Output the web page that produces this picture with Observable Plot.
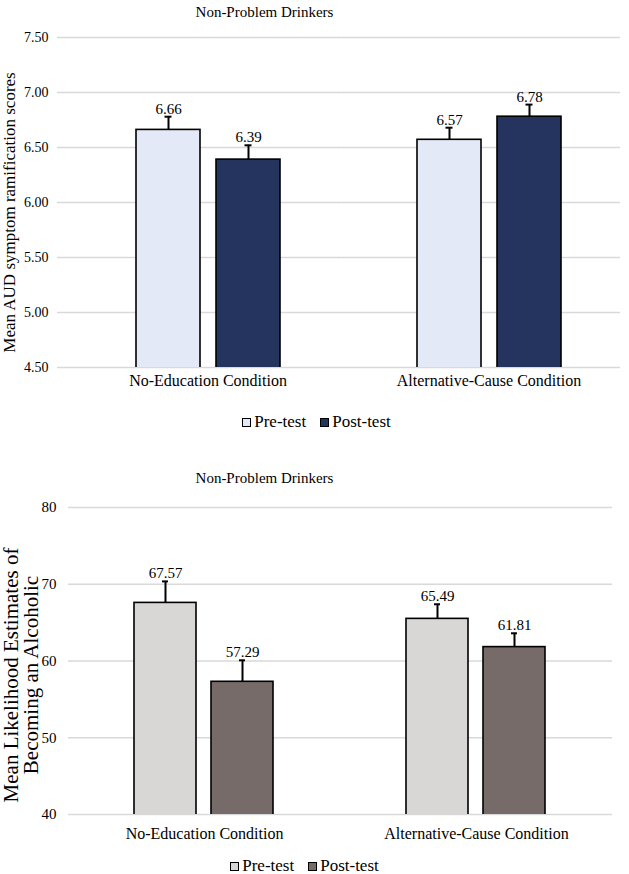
<!DOCTYPE html>
<html>
<head>
<meta charset="utf-8">
<script src="https://cdn.jsdelivr.net/npm/d3@7"></script>
<script src="https://cdn.jsdelivr.net/npm/@observablehq/plot@0.6"></script>
<style>
  html, body { margin: 0; padding: 0; background: #fff; }
  body { width: 629px; height: 874px; position: relative; overflow: hidden; font-family: "Liberation Serif", "Times New Roman", serif; color: #000; }
  .title { position: absolute; left: 0; width: 529px; text-align: center; font-size: 15px; line-height: 16px; }
  .chart { position: absolute; left: 0; }
  .legend { position: absolute; left: 0; width: 629px; display: flex; justify-content: center; align-items: center; font-size: 17px; line-height: 16px; }
  .legend .item { display: flex; align-items: center; margin: 0 7px; }
  .legend .sw { width: 7px; height: 7px; border: 1.6px solid #000; margin-right: 3px; }
</style>
</head>
<body>
<script>
// ---------- data ----------
const categories = ["No-Education Condition", "Alternative-Cause Condition"];
const tests = ["Pre-test", "Post-test"];

const chartTitle = "Non-Problem Drinkers";

// Chart 1: Mean AUD symptom ramification scores (order: cat1 pre, cat1 post, cat2 pre, cat2 post)
const audLabel = "Mean AUD symptom ramification scores";
const audMeans = [6.66, 6.39, 6.57, 6.78];
const audErrors = [0.12, 0.13, 0.11, 0.11];
const audTicks = [4.5, 5.0, 5.5, 6.0, 6.5, 7.0, 7.5];
const audColors = ["#E3E9F7", "#25345F"];

// Chart 2: Mean likelihood estimates of becoming an alcoholic
const likeLabel = "Mean Likelihood Estimates of\nBecoming an Alcoholic";
const likeMeans = [67.57, 57.29, 65.49, 61.81];
const likeErrors = [2.8, 2.8, 1.9, 1.8];
const likeTicks = [40, 50, 60, 70, 80];
const likeColors = ["#D8D7D5", "#766B68"];

function rowsOf(means, errs) {
  return categories.flatMap((c, i) => tests.map((t, j) => ({
    category: c, test: t, value: means[i * 2 + j], err: errs[i * 2 + j]
  })));
}

function makeChart(cfg) {
  const rows = rowsOf(cfg.means, cfg.errs);
  const top = d => d.value + d.err;
  return Plot.plot({
    width: 629,
    height: cfg.height,
    marginTop: cfg.mt,
    marginBottom: cfg.mb,
    marginLeft: cfg.ml,
    marginRight: cfg.mr,
    style: { fontFamily: "Liberation Serif, Times New Roman, serif", fontSize: "13px", color: "#000", background: "#fff", overflow: "visible" },
    fx: { domain: categories, padding: 0, label: null },
    x: { domain: tests, paddingInner: cfg.pi, paddingOuter: cfg.po, axis: null },
    y: { domain: [cfg.ticks[0], cfg.ticks[cfg.ticks.length - 1]], axis: null },
    color: { domain: tests, range: cfg.colors },
    marks: [
      Plot.gridY(cfg.ticks, { stroke: "#D9D9D9", strokeOpacity: 1, strokeWidth: 1.6, insetLeft: cfg.gridL, insetRight: cfg.gridR }),
      Plot.axisY(cfg.ticks, { tickSize: 0, tickPadding: cfg.tp, tickFormat: cfg.fmt, label: null, fontSize: cfg.tickFont }),
      Plot.axisFx({ anchor: "bottom", tickSize: 0, tickPadding: cfg.fxPad, fontSize: 16, label: null }),
      Plot.text([cfg.label], { fx: () => categories[0], frameAnchor: "left", text: d => d, rotate: -90, textAnchor: "middle", lineAnchor: "top", dx: -cfg.labelOffset, dy: cfg.labelDy, fontSize: cfg.labelFont, lineHeight: cfg.labelLH }),
      Plot.barY(rows, { fx: "category", x: "test", y: "value", fill: "test", stroke: "#000", strokeWidth: 1.6, clip: true }),
      Plot.ruleX(rows, { fx: "category", x: "test", y1: "value", y2: top, stroke: "#000", strokeWidth: 2 }),
      Plot.tickY(rows, { fx: "category", x: "test", y: top, stroke: "#000", strokeWidth: 2, insetLeft: cfg.capInset, insetRight: cfg.capInset }),
      Plot.text(rows, { fx: "category", x: "test", y: top, text: d => d.value.toFixed(2), lineAnchor: "bottom", dy: -3, fontSize: 15 })
    ]
  });
}

function addTitle(y) {
  const t = document.createElement("div");
  t.className = "title";
  t.style.top = y + "px";
  t.textContent = chartTitle;
  document.body.appendChild(t);
}
function addLegend(y, colors, shift) {
  const lg = document.createElement("div");
  lg.className = "legend";
  lg.style.top = y + "px";
  lg.style.left = shift + "px";
  tests.forEach((t, i) => {
    const it = document.createElement("div");
    it.className = "item";
    const sw = document.createElement("span");
    sw.className = "sw";
    sw.style.background = colors[i];
    const tx = document.createElement("span");
    tx.textContent = t;
    it.appendChild(sw); it.appendChild(tx);
    lg.appendChild(it);
  });
  document.body.appendChild(lg);
}
function addChart(svg, y) {
  const d = document.createElement("div");
  d.className = "chart";
  d.style.top = y + "px";
  d.appendChild(svg);
  document.body.appendChild(d);
}

// ---- chart 1 ----
addTitle(4);
addChart(makeChart({
  means: audMeans, errs: audErrors, ticks: audTicks, colors: audColors,
  height: 370, mt: 12, mb: 28, ml: 67, mr: 0, pi: 0.2, po: 0.856,
  gridL: -10, gridR: 9,
  tp: 19, fmt: d => d.toFixed(2), tickFont: 14, fxPad: 7,
  label: audLabel, labelOffset: 66, labelDy: 10, labelFont: 17, labelLH: 1.1, capInset: 28.5
}), 25);
addLegend(414, audColors, 2);

// ---- chart 2 ----
addTitle(470);
addChart(makeChart({
  means: likeMeans, errs: likeErrors, ticks: likeTicks, colors: likeColors,
  height: 360, mt: 17, mb: 36, ml: 67, mr: 17, pi: 0.19, po: 0.842,
  gridL: 0, gridR: 0,
  tp: 12, fmt: d => String(d), tickFont: 15, fxPad: 13,
  label: likeLabel, labelOffset: 65, labelDy: 14, labelFont: 21, labelLH: 0.95, capInset: 28
}), 490);
addLegend(858, likeColors, -10);
</script>
</body>
</html>
